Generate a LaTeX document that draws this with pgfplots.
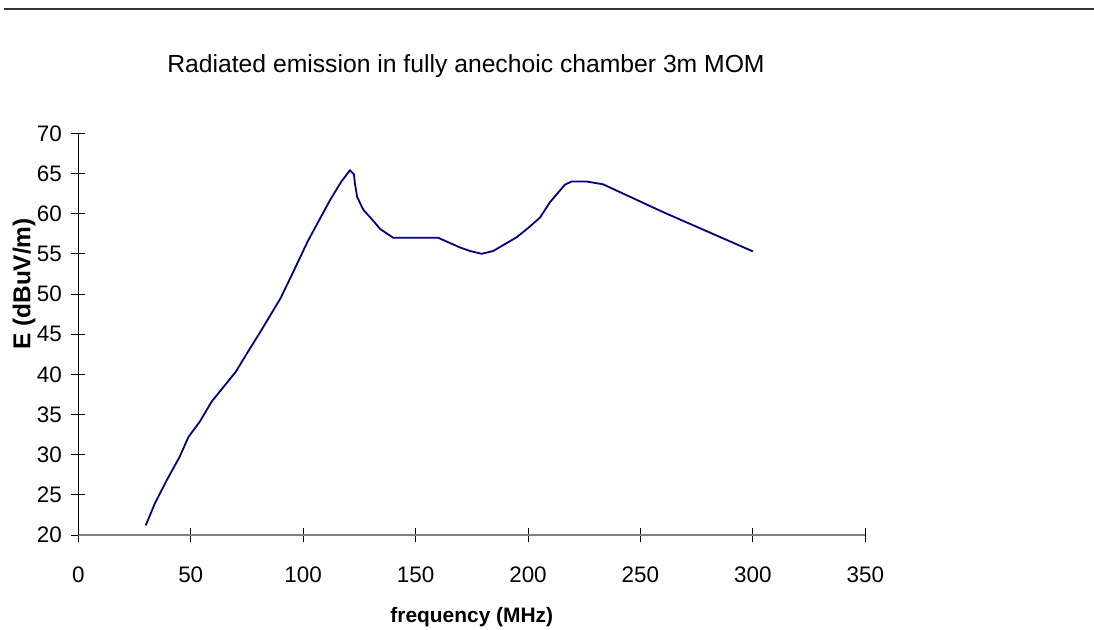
\documentclass[border=0pt]{standalone}
\usepackage{fontspec}
\setmainfont{Liberation Sans}
\usepackage{pgfplots}
\pgfplotsset{compat=1.18}
\definecolor{cLine}{RGB}{0,0,128}
\definecolor{cAxis}{RGB}{128,128,128}
\begin{document}
\begin{tikzpicture}
\begin{axis}[scale only axis, width=787bp, height=401.7bp,
  xmin=0, xmax=350, ymin=20, ymax=70,
  xtick={0,50,...,350}, ytick={20,25,...,70},
  axis x line*=bottom, axis y line*=left,
  x axis line style={cAxis, line width=1.6bp},
  y axis line style={black, line width=0.9bp},
  tick align=center, major tick length=14bp,
  every tick/.style={black, line width=0.9bp},
  tick label style={font=\fontsize{22.5}{26}\selectfont},
  xticklabel style={yshift=-21bp},
  yticklabel style={xshift=-6bp},
  /pgf/number format/assume math mode=true,
  xlabel={\textbf{frequency (MHz)}},
  ylabel={\textbf{E (dBuV/m)}},
  xlabel style={font=\fontsize{21}{24}\selectfont, at={(axis description cs:0.5,-0.204)}, anchor=center},
  ylabel style={font=\fontsize{24.5}{28}\selectfont, at={(axis description cs:-0.069,0.625)}, anchor=center},
  clip=false]
  \addplot[cLine, line width=1.8bp, mark=none] coordinates {
    (30,21.2) (34,23.9) (39.3,26.8) (45,29.7) (49,32.2) (54,34.1) (59.3,36.6)
    (70,40.3) (75,42.6) (81,45.3) (90,49.5) (95,52.4) (102.3,56.7) (112,61.7)
    (117,64.0) (120.8,65.4) (122.6,64.9) (123,63.8) (124,62.1) (126.7,60.5)
    (131.2,59.1) (134.2,58.1) (140,57.0) (160,57.0) (169.7,55.8) (174.2,55.35)
    (179.4,55.0) (184.5,55.35) (194.9,57.05) (200,58.2) (205.3,59.5) (209.7,61.4)
    (216.4,63.6) (219.4,64.0) (226,64.0) (233.4,63.65) (260,60.2) (300,55.3)};
\end{axis}
\node[font=\fontsize{24.8}{28}\selectfont] at (387.7bp,469bp) {Radiated emission in fully anechoic chamber 3m MOM};
\draw[black!80, line width=1.3bp] (-74.3bp,526bp) -- (1015.7bp,526bp);
\pgfresetboundingbox
\path (-78.3bp,-95bp) rectangle (1015.7bp,535bp);
\end{tikzpicture}
\end{document}
